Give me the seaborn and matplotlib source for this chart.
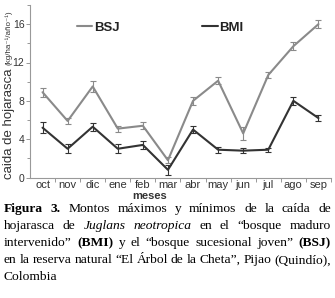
import numpy as np
import pandas as pd
import seaborn as sns
import matplotlib
matplotlib.use("Agg")
from matplotlib import pyplot as plt
from matplotlib.ticker import MultipleLocator, FixedLocator

# monthly litterfall
months = ["oct", "nov", "dic", "ene", "feb", "mar", "abr", "may", "jun", "jul", "ago", "sep"]
bsj_val = [8.9, 5.9, 9.5, 5.1, 5.4, 1.8, 8.0, 10.1, 4.6, 10.7, 13.7, 16.0]
bsj_err = [0.45, 0.35, 0.6, 0.3, 0.35, 0.3, 0.45, 0.35, 0.7, 0.35, 0.4, 0.4]
bmi_val = [5.2, 3.0, 5.3, 3.0, 3.4, 0.8, 5.0, 2.9, 2.8, 2.9, 8.0, 6.2]
bmi_err = [0.6, 0.45, 0.4, 0.45, 0.4, 0.5, 0.4, 0.3, 0.25, 0.2, 0.4, 0.3]

sns.set_style("ticks")
plt.rcParams["font.family"] = ["Liberation Sans", "DejaVu Sans"]

###############################################################################
# long table: each month gets val-err and val+err, so mean = val and
# min/max gives the bar
rows = []
for name, vals, errs in [("BSJ", bsj_val, bsj_err), ("BMI", bmi_val, bmi_err)]:
    for i, (v, e) in enumerate(zip(vals, errs)):
        rows.append({"pos": i, "y": v - e, "site": name})
        rows.append({"pos": i, "y": v + e, "site": name})
df = pd.DataFrame(rows)

W, H = 335, 298
fig = plt.figure(figsize=(W / 100, H / 100), dpi=100)
ax = fig.add_axes([30 / W, 1 - 177.5 / H, 301 / W, 172.5 / H])

sns.lineplot(data=df, x="pos", y="y", hue="site", hue_order=["BSJ", "BMI"],
             palette={"BSJ": "#8a8a8a", "BMI": "#333333"},
             errorbar=lambda v: (v.min(), v.max()), err_style="bars",
             err_kws={"capsize": 2.2, "elinewidth": 0.8, "capthick": 0.8},
             linewidth=1.5, ax=ax, legend=True)

ax.set_xlim(-0.5, 11.5)
ax.set_ylim(0, 18)
ax.set_xticks(range(12))
ax.set_xticklabels(months)
ax.xaxis.set_minor_locator(FixedLocator(np.arange(0.5, 12, 1)))
ax.tick_params(axis="x", which="major", length=0, pad=2, labelsize=8, labelcolor="#333333")
ax.tick_params(axis="x", which="minor", length=3, width=0.6, color="#888888")
ax.yaxis.set_major_locator(MultipleLocator(4))
ax.yaxis.set_minor_locator(MultipleLocator(2))
ax.tick_params(axis="y", which="major", length=3, width=0.6, color="#888888",
               pad=1, labelsize=7.5, labelcolor="#333333")
ax.tick_params(axis="y", which="minor", length=2, width=0.6, color="#888888")
sns.despine(ax=ax)
for s in ["left", "bottom"]:
    ax.spines[s].set_color("#999999")
    ax.spines[s].set_linewidth(0.8)
ax.set_xlabel("")
ax.set_ylabel("")

leg = ax.legend(ncol=2, frameon=False, loc="center left",
                bbox_to_anchor=(0.155, 0.867), borderpad=0, borderaxespad=0,
                handlelength=1.2, handletextpad=0.1, columnspacing=6.3,
                prop={"weight": "bold", "size": 9.5})
for t in leg.get_texts():
    t.set_color("#222222")

fig.text(150 / W, 1 - 196 / H, "meses", ha="center", va="center",
         fontsize=8, fontweight="bold", color="#333333")

# y label in two sizes
renderer = fig.canvas.get_renderer()
ylab = fig.text(9 / W, 1 - 179 / H, "caida de hojarasca ", rotation=90,
                rotation_mode="anchor", ha="left", va="center",
                fontsize=9.5, color="#333333")
hgt = ylab.get_window_extent(renderer).height
fig.text(9 / W, 1 - (179 - hgt) / H, "(kg/ha\u207b\u00b9/año\u207b\u00b9)", rotation=90,
         rotation_mode="anchor", ha="left", va="center",
         fontsize=5.8, color="#333333")

###############################################################################
# justified caption, word by word
caption = [
    [("Figura", "b"), ("3.", "b"), ("Montos", "n"), ("máximos", "n"), ("y", "n"),
     ("mínimos", "n"), ("de", "n"), ("la", "n"), ("caída", "n"), ("de", "n")],
    [("hojarasca", "n"), ("de", "n"), ("Juglans", "i"), ("neotropica", "i"), ("en", "n"),
     ("el", "n"), ("\u201cbosque", "n"), ("maduro", "n")],
    [("intervenido\u201d", "n"), ("(BMI)", "b"), ("y", "n"), ("el", "n"), ("\u201cbosque", "n"),
     ("sucesional", "n"), ("joven\u201d", "n"), ("(BSJ)", "b")],
    [("en", "n"), ("la", "n"), ("reserva", "n"), ("natural", "n"), ("\u201cEl", "n"),
     ("Árbol", "n"), ("de", "n"), ("la", "n"), ("Cheta\u201d,", "n"), ("Pijao", "n"),
     ("(Quindío),", "n")],
    [("Colombia", "n")],
]
baselines = [212, 229, 246, 263, 280]
x0, x1 = 4, 331
cap_size = 9.7
for li, (words, yb) in enumerate(zip(caption, baselines)):
    items = []
    for w, st in words:
        t = fig.text(0, 1 - yb / H, w, family="Liberation Serif", fontsize=cap_size,
                     fontweight="bold" if st == "b" else "normal",
                     fontstyle="italic" if st == "i" else "normal",
                     va="baseline", ha="left", color="black")
        items.append((t, t.get_window_extent(renderer).width))
    total = sum(wd for _, wd in items)
    if li < len(caption) - 1 and len(items) > 1:
        gap = (x1 - x0 - total) / (len(items) - 1)
    else:
        gap = 3.3
    x = x0
    for t, wd in items:
        t.set_x(x / W)
        x += wd + gap

fig.savefig("out.png", dpi=100)
